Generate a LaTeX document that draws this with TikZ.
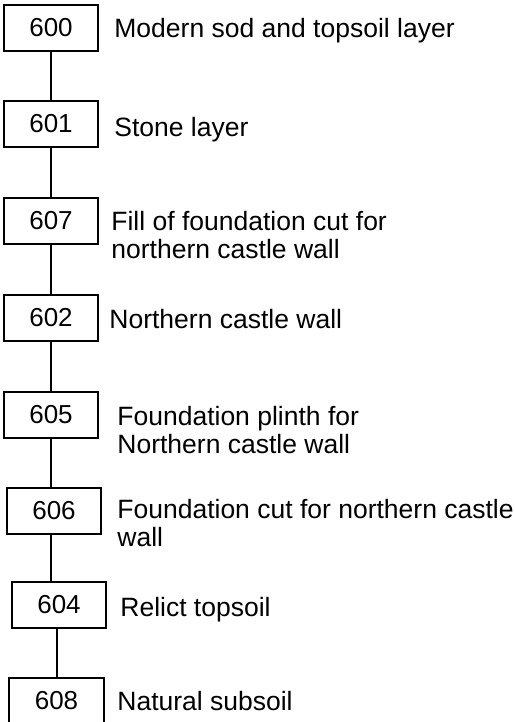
\documentclass[tikz,border=0pt]{standalone}
\usepackage{fontspec}
\setmainfont{Liberation Sans}
\usetikzlibrary{positioning}
\begin{document}
\begin{tikzpicture}[x=0.5pt,y=-0.5pt,
	unit/.style={draw,line width=1pt,minimum width=47.3pt,minimum height=23pt,inner sep=0pt,
		font=\fontsize{13}{14}\selectfont},
	desc/.style={anchor=base west,inner sep=0pt,align=left,
		font=\fontsize{13.25}{14}\selectfont},
	link/.style={line width=1pt}]
	\useasboundingbox (0,0) rectangle (514,722);
	% context numbers, top to bottom
	\node[unit] (u600) at (51,28) {600};
	\node[unit] (u601) at (51,124) {601};
	\node[unit] (u607) at (51,221) {607};
	\node[unit] (u602) at (51,318) {602};
	\node[unit] (u605) at (51,415) {605};
	\node[unit] (u606) at (54,511) {606};
	\node[unit] (u604) at (59,605) {604};
	\node[unit] (u608) at (56.5,700.5) {608};
	% descriptions (base = last line of the text)
	\node[desc] (d600) at (114,38) {Modern sod and topsoil layer};
	\node[desc] (d601) at (114,136) {Stone layer};
	\node[desc] (d607) at (111,258) {Fill of foundation cut for\\northern castle wall};
	\node[desc] (d602) at (109,328) {Northern castle wall};
	\node[desc] (d605) at (117,453) {Foundation plinth for\\Northern castle wall};
	\node[desc] (d606) at (117,546) {Foundation cut for northern castle\\wall};
	\node[desc] (d604) at (120,616) {Relict topsoil};
	\node[desc] (d608) at (117,710) {Natural subsoil};
	% stratigraphic links
	\draw[link] (u600) -- (u601);
	\draw[link] (u601) -- (u607);
	\draw[link] (u607) -- (u602);
	\draw[link] (u602) -- (u605);
	\draw[link] (u605.south) -- (u605.south |- u606.north);
	\draw[link] (u606.south -| u605.south) -- (u604.north -| u605.south);
	\draw[link] (u608.north |- u604.south) -- (u608.north);
\end{tikzpicture}
\end{document}
